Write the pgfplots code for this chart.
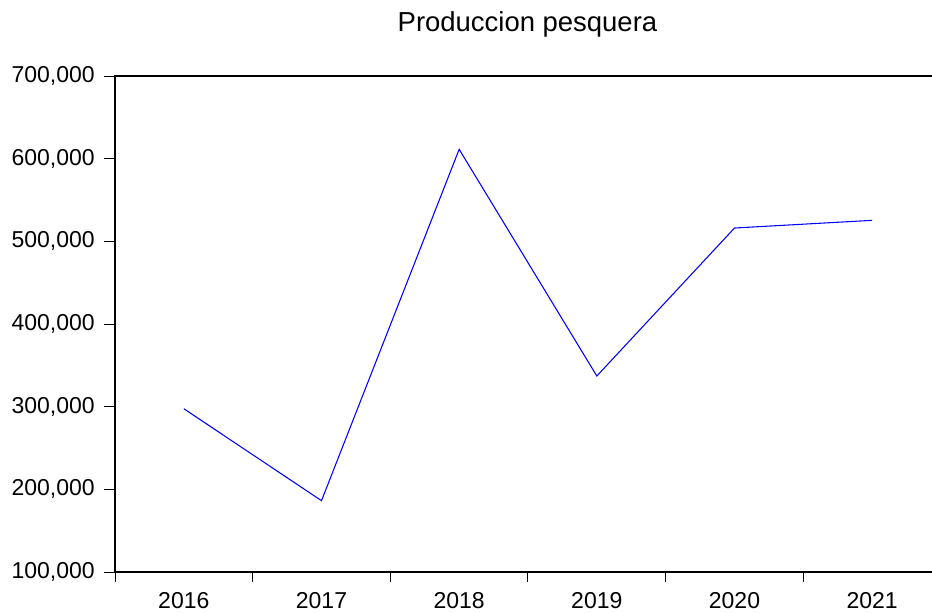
\documentclass[border=0pt]{standalone}
\usepackage{pgfplots}
\pgfplotsset{compat=1.18}
\usepackage{fontspec}
\setmainfont{Liberation Sans}
\begin{document}
\begin{tikzpicture}
\path[use as bounding box] (0pt,0pt) rectangle (699pt,459pt);
\clip (0pt,0pt) rectangle (699pt,459pt);
\node[anchor=base, font=\fontsize{20.6pt}{23pt}\selectfont, inner sep=0pt] at (395.6pt,435pt) {Produccion pesquera};
\begin{axis}[
  at={(86.25pt,30pt)}, anchor=south west, scale only axis,
  width=619.5pt, height=372pt,
  xmin=0, xmax=6, ymin=100000, ymax=700000,
  ytick={100000,200000,...,700000},
  scaled ticks=false,
  xtick={0.5,1.5,...,5.5}, xticklabels={2016,2017,2018,2019,2020,2021},
  minor xtick={0,1,...,6},
  tick pos=left,
  tick align=outside,
  major tick length=8pt, minor tick length=7.5pt,
  major x tick style={draw=none},
  tick style={black, line width=0.75pt},
  axis line style={line width=1pt, black},
  ticklabel style={font=\fontsize{17.25pt}{20pt}\selectfont, inner sep=0pt},
  xticklabel style={anchor=north, yshift=-7.5pt},
  yticklabel style={anchor=east, xshift=-7pt},
  /pgf/number format/.cd, fixed, 1000 sep={,}, assume math mode=true,
]
\addplot[blue, line width=0.8pt, mark=none] coordinates {
  (0.5,297500) (1.5,186300) (2.5,611300) (3.5,337100) (4.5,516100) (5.5,525400)
};
\end{axis}
\end{tikzpicture}
\end{document}
